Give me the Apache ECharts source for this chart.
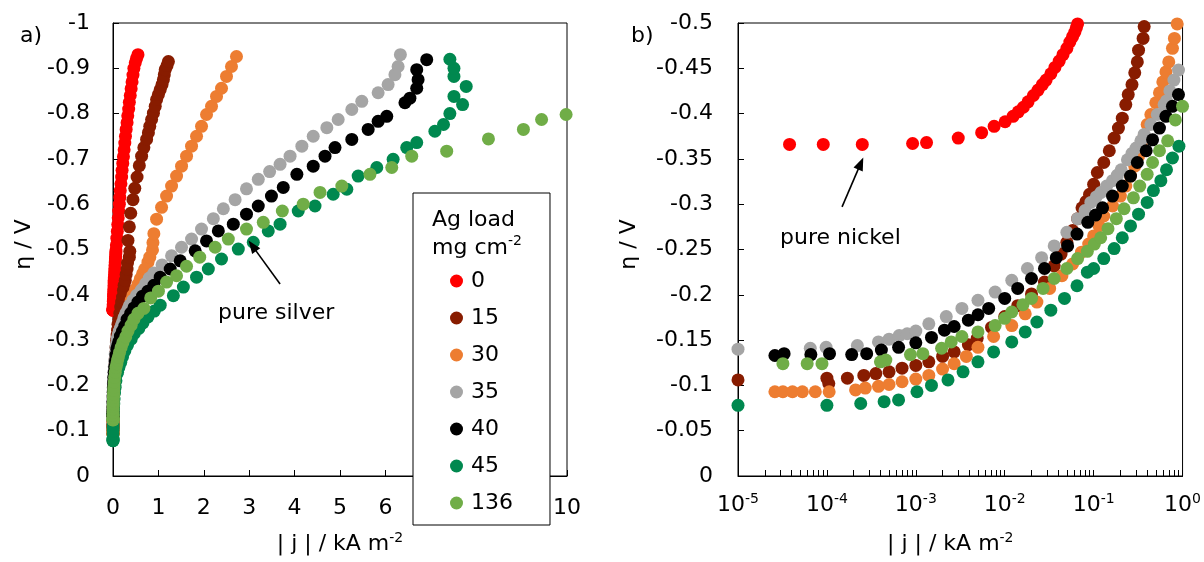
<!DOCTYPE html>
<html><head><meta charset="utf-8">
<script src="https://cdn.jsdelivr.net/npm/echarts@6/dist/echarts.min.js"></script>
<style>html,body{margin:0;padding:0;background:#fff}#c{width:1204px;height:562px}</style>
</head><body><div id="c"></div>
<script>
// ---- data: [|j| (kA m-2), eta (V)] ----
const seriesNames = ['0','15','30','35','40','45','136'];
const seriesColors = ['#FF0000','#881C00','#ED7D31','#A5A5A5','#000000','#00884F','#70AD47'];

const ag0 = [[3.8e-5,-0.366],[9.1e-5,-0.366],[2.5e-4,-0.366],[9.2e-4,-0.367],[1.32e-3,-0.368],[3.0e-3,-0.373],[5.5e-3,-0.379],[7.6e-3,-0.386],[0.0101,-0.391],[0.0124,-0.397],[0.0142,-0.402],[0.0162,-0.407],[0.0183,-0.413],[0.021,-0.42],[0.0237,-0.426],[0.0265,-0.432],[0.0292,-0.437],[0.033,-0.444],[0.0367,-0.451],[0.041,-0.458],[0.0452,-0.465],[0.05,-0.472],[0.054,-0.479],[0.058,-0.485],[0.0615,-0.49],[0.064,-0.495],[0.066,-0.499],
 [0.075,-0.51],[0.085,-0.525],[0.095,-0.54],[0.105,-0.555],[0.115,-0.57],[0.125,-0.585],[0.14,-0.6],[0.15,-0.615],[0.16,-0.63],[0.175,-0.645],[0.19,-0.66],[0.2,-0.675],[0.215,-0.69],[0.23,-0.705],[0.245,-0.72],[0.26,-0.735],[0.275,-0.75],[0.29,-0.765],[0.31,-0.78],[0.325,-0.795],[0.345,-0.81],[0.36,-0.825],[0.38,-0.84],[0.4,-0.855],[0.42,-0.87],[0.44,-0.885],[0.46,-0.9],[0.49,-0.912],[0.52,-0.922],[0.55,-0.93]];

const ag15 = [[1e-5,-0.106],[1.0e-4,-0.108],[1.05e-4,-0.102],[1.7e-4,-0.108],[2.6e-4,-0.111],[3.55e-4,-0.113],[5e-4,-0.115],[7e-4,-0.119],[1e-3,-0.122],[1.4e-3,-0.126],[2.0e-3,-0.132],[2.7e-3,-0.137],[3.9e-3,-0.145],[4.9e-3,-0.152],[7.1e-3,-0.164],[0.01,-0.176],[0.014,-0.188],[0.02,-0.201],[0.028,-0.214],[0.036,-0.232],[0.043,-0.245],[0.05,-0.258],[0.058,-0.271],[0.066,-0.284],[0.074,-0.296],[0.082,-0.303],[0.09,-0.311],[0.1,-0.322],[0.11,-0.335],[0.13,-0.346],[0.15,-0.359],[0.17,-0.373],[0.19,-0.384],[0.21,-0.395],[0.23,-0.41],[0.245,-0.421],[0.27,-0.432],[0.29,-0.445],[0.31,-0.457],[0.32,-0.47],[0.36,-0.483],[0.37,-0.496],
 [0.33,-0.52],[0.36,-0.55],[0.39,-0.58],[0.44,-0.61],[0.48,-0.635],[0.53,-0.66],[0.58,-0.685],[0.63,-0.706],[0.68,-0.725],[0.74,-0.743],[0.78,-0.758],[0.81,-0.772],[0.85,-0.787],[0.89,-0.801],[0.93,-0.816],[0.96,-0.831],[1.0,-0.842],[1.04,-0.853],[1.08,-0.864],[1.11,-0.875],[1.13,-0.886],[1.15,-0.897],[1.19,-0.906],[1.22,-0.915]];

const ag30 = [[2.6e-5,-0.093],[3.2e-5,-0.093],[4.1e-5,-0.093],[5.3e-5,-0.093],[7.4e-5,-0.093],[1.06e-4,-0.093],[2.1e-4,-0.095],[2.7e-4,-0.097],[3.8e-4,-0.099],[5e-4,-0.101],[7e-4,-0.104],[1e-3,-0.107],[1.4e-3,-0.111],[2e-3,-0.118],[2.7e-3,-0.124],[3.7e-3,-0.132],[5e-3,-0.142],[7.5e-3,-0.154],[0.012,-0.166],[0.017,-0.179],[0.023,-0.192],[0.032,-0.207],[0.044,-0.221],[0.058,-0.234],[0.073,-0.247],[0.088,-0.256],[0.10,-0.265],[0.115,-0.276],[0.13,-0.287],[0.163,-0.298],[0.20,-0.309],[0.23,-0.32],[0.26,-0.331],[0.29,-0.342],[0.32,-0.353],[0.345,-0.364],[0.37,-0.375],[0.40,-0.388],[0.44,-0.399],[0.50,-0.412],[0.55,-0.423],[0.60,-0.435],[0.65,-0.446],[0.70,-0.457],[0.77,-0.472],[0.81,-0.483],[0.87,-0.499],
 [0.88,-0.515],[0.9,-0.535],[0.96,-0.567],[1.07,-0.593],[1.18,-0.618],[1.29,-0.64],[1.40,-0.662],[1.51,-0.684],[1.62,-0.706],[1.73,-0.728],[1.84,-0.75],[1.95,-0.772],[2.06,-0.798],[2.17,-0.816],[2.28,-0.838],[2.39,-0.856],[2.50,-0.882],[2.61,-0.904],[2.72,-0.926]];

const ag35 = [[1e-5,-0.14],[6.5e-5,-0.141],[9.8e-5,-0.142],[2.2e-4,-0.144],[3.8e-4,-0.148],[5e-4,-0.151],[6.5e-4,-0.155],[8e-4,-0.157],[1e-3,-0.16],[1.4e-3,-0.168],[2.2e-3,-0.176],[3.3e-3,-0.185],[5e-3,-0.194],[7.8e-3,-0.203],[0.012,-0.216],[0.018,-0.229],[0.026,-0.241],[0.036,-0.254],[0.05,-0.269],[0.066,-0.284],[0.08,-0.293],[0.093,-0.302],[0.107,-0.308],[0.121,-0.313],[0.14,-0.32],[0.163,-0.326],[0.185,-0.332],[0.204,-0.338],[0.24,-0.349],[0.27,-0.356],[0.30,-0.362],[0.34,-0.37],[0.37,-0.377],[0.44,-0.388],[0.52,-0.399],[0.62,-0.41],[0.66,-0.414],[0.72,-0.425],[0.80,-0.437],[0.90,-0.448],
 [1.08,-0.466],[1.29,-0.486],[1.51,-0.505],[1.73,-0.523],[1.95,-0.545],[2.21,-0.568],[2.43,-0.59],[2.69,-0.61],[2.94,-0.634],[3.2,-0.655],[3.45,-0.672],[3.68,-0.688],[3.9,-0.706],[4.16,-0.728],[4.41,-0.75],[4.71,-0.769],[4.96,-0.787],[5.26,-0.809],[5.48,-0.827],[5.84,-0.846],[6.06,-0.864],[6.21,-0.886],[6.28,-0.904],[6.33,-0.93]];

const ag40 = [[2.6e-5,-0.133],[3.3e-5,-0.135],[6.6e-5,-0.134],[1.07e-4,-0.135],[1.9e-4,-0.134],[2.8e-4,-0.135],[4.1e-4,-0.139],[6.4e-4,-0.142],[1e-3,-0.147],[1.5e-3,-0.153],[2.1e-3,-0.161],[2.7e-3,-0.165],[3.9e-3,-0.172],[5e-3,-0.178],[6.6e-3,-0.185],[0.01,-0.196],[0.014,-0.207],[0.02,-0.218],[0.028,-0.229],[0.038,-0.241],[0.051,-0.254],[0.065,-0.267],[0.086,-0.28],[0.105,-0.288],[0.126,-0.296],[0.163,-0.309],[0.21,-0.32],[0.26,-0.331],[0.31,-0.346],[0.39,-0.359],[0.46,-0.371],[0.55,-0.384],[0.65,-0.397],[0.77,-0.408],[0.90,-0.421],
 [1.04,-0.439],[1.26,-0.457],[1.48,-0.475],[1.81,-0.497],[2.06,-0.519],[2.32,-0.541],[2.65,-0.556],[2.94,-0.578],[3.2,-0.596],[3.49,-0.618],[3.75,-0.637],[4.05,-0.666],[4.41,-0.684],[4.67,-0.706],[4.89,-0.725],[5.26,-0.743],[5.62,-0.765],[5.84,-0.783],[6.03,-0.794],[6.43,-0.824],[6.54,-0.834],[6.69,-0.856],[6.72,-0.875],[6.69,-0.897],[6.91,-0.919]];

const ag45 = [[1e-5,-0.078],[1e-4,-0.078],[2.4e-4,-0.08],[4.4e-4,-0.082],[6.4e-4,-0.084],[1.03e-3,-0.093],[1.5e-3,-0.1],[2.3e-3,-0.106],[3.4e-3,-0.115],[5e-3,-0.126],[7.5e-3,-0.137],[0.012,-0.148],[0.017,-0.159],[0.023,-0.17],[0.033,-0.183],[0.047,-0.196],[0.065,-0.21],[0.085,-0.225],[0.10,-0.229],[0.13,-0.24],[0.17,-0.251],[0.21,-0.263],[0.26,-0.276],[0.32,-0.289],[0.40,-0.302],[0.47,-0.315],[0.57,-0.326],[0.66,-0.338],[0.77,-0.351],[0.91,-0.364],
 [1.04,-0.377],[1.33,-0.398],[1.55,-0.417],[1.84,-0.439],[2.10,-0.457],[2.39,-0.479],[2.76,-0.501],[3.09,-0.516],[3.42,-0.541],[3.68,-0.556],[4.08,-0.585],[4.45,-0.596],[4.85,-0.622],[5.15,-0.633],[5.40,-0.662],[5.81,-0.681],[6.17,-0.699],[6.47,-0.725],[6.69,-0.736],[7.09,-0.761],[7.28,-0.776],[7.42,-0.80],[7.70,-0.82],[7.51,-0.838],[7.78,-0.86],[7.51,-0.882],[7.51,-0.90],[7.42,-0.92]];

const ag136 = [[3.2e-5,-0.124],[6.0e-5,-0.124],[8.8e-5,-0.124],[4.0e-4,-0.126],[4.6e-4,-0.128],[8.7e-4,-0.134],[1.2e-3,-0.135],[1.95e-3,-0.141],[2.5e-3,-0.148],[3.3e-3,-0.154],[5e-3,-0.159],[7.8e-3,-0.166],[0.01,-0.174],[0.012,-0.181],[0.016,-0.189],[0.02,-0.196],[0.027,-0.207],[0.036,-0.218],[0.05,-0.229],[0.066,-0.24],[0.085,-0.248],[0.102,-0.256],[0.12,-0.263],[0.145,-0.273],[0.18,-0.284],[0.22,-0.295],[0.28,-0.307],[0.33,-0.32],[0.40,-0.333],[0.46,-0.346],[0.55,-0.359],[0.68,-0.37],[0.83,-0.393],[1.0,-0.408],
 [1.18,-0.428],[1.40,-0.442],[1.62,-0.463],[1.91,-0.483],[2.25,-0.505],[2.54,-0.523],[2.94,-0.545],[3.31,-0.56],[3.73,-0.585],[4.19,-0.60],[4.56,-0.626],[5.04,-0.64],[5.66,-0.666],[6.14,-0.681],[6.58,-0.706],[7.35,-0.717],[8.27,-0.744],[9.04,-0.765],[9.44,-0.787],[9.98,-0.798]];

const seriesData = [ag0, ag15, ag30, ag35, ag40, ag45, ag136];

// axis ticks
const leftYMin = -1, leftYMax = 0, leftYStep = 0.1;
const rightYMin = -0.5, rightYMax = 0, rightYStep = 0.05;
const logLabelValues = [1e-5, 1e-4, 1e-3, 1e-2, 1e-1, 1];
const logTickValues = [];
for (let e = -5; e < 0; e++) for (let m = 1; m <= 9; m++) logTickValues.push(Number((m * Math.pow(10, e)).toPrecision(3)));
logTickValues.push(1);

// annotation arrows (data coordinates)
const silverArrow = [[3.68, -0.424], [3.07, -0.508]];
const nickelArrow = [[1.48e-4, -0.297], [2.4e-4, -0.345]];

const F = '"DejaVu Sans", "Liberation Sans", Arial, sans-serif';
const FS = 22;
const supRich = { sup: { fontSize: 14, lineHeight: 16, verticalAlign: 'top', fontFamily: F, color: '#000' } };
const tickStyle = { inside: true, length: 6, lineStyle: { color: '#000', width: 1 } };

function axisCommon() {
  return {
    axisLine: { onZero: false, lineStyle: { color: '#000', width: 1 } },
    axisTick: Object.assign({}, tickStyle),
    splitLine: { show: false },
    minorTick: { show: false },
  };
}

const arrowML = (pts) => ({
  silent: true, animation: false,
  symbol: ['none', 'triangle'], symbolSize: [10, 13],
  lineStyle: { color: '#000', width: 1.6, type: 'solid', opacity: 1 },
  itemStyle: { color: '#000' },
  label: { show: false },
  emphasis: { disabled: true },
  data: [[{ coord: pts[0] }, { coord: pts[1] }]]
});

const series = [];
seriesNames.forEach((nm, i) => {
  series.push({
    type: 'scatter', name: nm, xAxisIndex: 0, yAxisIndex: 0, data: seriesData[i],
    symbol: 'circle', symbolSize: 13, clip: false,
    itemStyle: { color: seriesColors[i], opacity: 1 },
    emphasis: { disabled: true },
    markLine: nm === '45' ? arrowML(silverArrow) : undefined
  });
});
seriesNames.forEach((nm, i) => {
  series.push({
    type: 'scatter', name: nm, xAxisIndex: 1, yAxisIndex: 1, data: seriesData[i],
    symbol: 'circle', symbolSize: 13, clip: true,
    itemStyle: { color: seriesColors[i], opacity: 1 },
    emphasis: { disabled: true },
    markLine: nm === '0' ? arrowML(nickelArrow) : undefined
  });
});

const chart = echarts.init(document.getElementById('c'), null, { renderer: 'canvas' });
chart.setOption({
  animation: false,
  backgroundColor: '#fff',
  textStyle: { fontFamily: F, color: '#000' },
  grid: [
    { left: 113, top: 23, width: 454, height: 455, show: true, borderColor: '#000', borderWidth: 1, backgroundColor: 'transparent' },
    { left: 738, top: 23, width: 447, height: 455, show: true, borderColor: '#000', borderWidth: 1, backgroundColor: 'transparent' }
  ],
  xAxis: [
    Object.assign(axisCommon(), {
      type: 'value', gridIndex: 0, min: 0, max: 10, interval: 1, position: 'bottom',
      axisLabel: { color: '#000', fontSize: FS, fontFamily: F, margin: 21 },
      name: '| j | / kA m{sup|-2}', nameLocation: 'middle', nameGap: 55,
      nameTextStyle: { color: '#000', fontSize: FS, fontFamily: F, lineHeight: 26, rich: supRich }
    }),
    Object.assign(axisCommon(), {
      type: 'log', logBase: 10, gridIndex: 1, min: 1e-5, max: 1, position: 'bottom',
      axisTick: Object.assign({}, tickStyle, { customValues: logTickValues }),
      axisLabel: {
        color: '#000', fontSize: FS, fontFamily: F, margin: 16, lineHeight: 26,
        customValues: logLabelValues,
        formatter: v => '10{sup|' + Math.round(Math.log10(v)) + '}',
        rich: supRich
      },
      name: '| j | / kA m{sup|-2}', nameLocation: 'middle', nameGap: 55,
      nameTextStyle: { color: '#000', fontSize: FS, fontFamily: F, lineHeight: 26, rich: supRich, padding: [0, 20, 0, 0] }
    })
  ],
  yAxis: [
    Object.assign(axisCommon(), {
      type: 'value', gridIndex: 0, min: leftYMin, max: leftYMax, interval: leftYStep, inverse: true, position: 'left',
      axisLabel: { color: '#000', fontSize: FS, fontFamily: F, margin: 23 },
      name: 'η / V', nameLocation: 'middle', nameGap: 78, nameRotate: 90,
      nameTextStyle: { color: '#000', fontSize: FS, fontFamily: F, padding: [0, 0, 0, 10] }
    }),
    Object.assign(axisCommon(), {
      type: 'value', gridIndex: 1, min: rightYMin, max: rightYMax, interval: rightYStep, inverse: true, position: 'left',
      axisLabel: { color: '#000', fontSize: FS, fontFamily: F, margin: 25 },
      name: 'η / V', nameLocation: 'middle', nameGap: 98, nameRotate: 90,
      nameTextStyle: { color: '#000', fontSize: FS, fontFamily: F, padding: [0, 0, 0, 10] }
    })
  ],
  legend: {
    data: seriesNames, orient: 'vertical', left: 413, top: 193,
    padding: [77, 37, 11, 37], itemWidth: 13, itemHeight: 13, itemGap: 15,
    icon: 'circle', borderColor: '#000', borderWidth: 1, backgroundColor: '#fff',
    selectedMode: false,
    textStyle: { color: '#000', fontSize: FS, fontFamily: F, lineHeight: 13, padding: [0, 0, 0, 3] }
  },
  title: {
    text: 'Ag load\nmg cm{sup|-2}', left: 432, top: 206, padding: 0,
    textStyle: { color: '#000', fontSize: FS, fontFamily: F, fontWeight: 'normal', lineHeight: 28, rich: { sup: { fontSize: 14, lineHeight: 18, verticalAlign: 'top', fontFamily: F, color: '#000' } } }
  },
  graphic: [
    { type: 'text', left: 20, top: 25, style: { text: 'a)', font: FS + 'px ' + F, fill: '#000' } },
    { type: 'text', left: 631, top: 25, style: { text: 'b)', font: FS + 'px ' + F, fill: '#000' } },
    { type: 'text', left: 218, top: 302, style: { text: 'pure silver', font: FS + 'px ' + F, fill: '#000' } },
    { type: 'text', left: 780, top: 227, style: { text: 'pure nickel', font: FS + 'px ' + F, fill: '#000' } }
  ],
  series: series
});
</script></body></html>
